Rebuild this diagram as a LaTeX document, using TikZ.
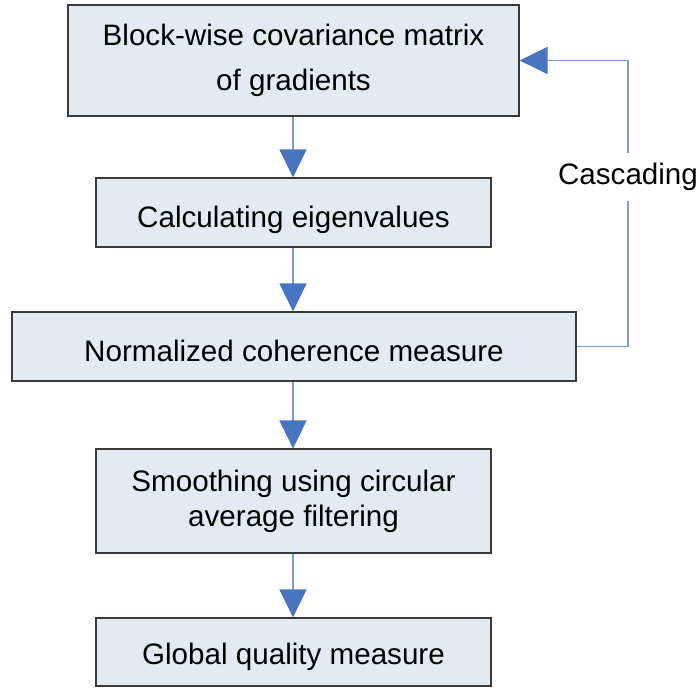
\documentclass[tikz,border=0pt]{standalone}
\usepackage{fontspec}
\setmainfont{Liberation Sans}
\usetikzlibrary{arrows.meta}
\definecolor{boxfill}{RGB}{228,234,243}
\definecolor{boxline}{RGB}{58,58,58}
\definecolor{flowline}{RGB}{122,156,210}
\definecolor{flowtip}{RGB}{72,116,192}
\tikzset{
  stage/.style={draw=boxline, line width=0.55pt, fill=boxfill, align=center,
    inner sep=0pt, font=\fontsize{14.8}{17.5}\selectfont},
  oneline/.style={text height=#1, text depth=0pt},
  flow/.style={draw=flowline, line width=0.6pt,
    -{Triangle[width=13.5pt,length=14pt,color=flowtip]}},
}
\begin{document}
\begin{tikzpicture}[x=0.5pt,y=-0.5pt]
\useasboundingbox (0,0) rectangle (700,689);
\node [stage, minimum width=225.5pt, minimum height=55.5pt,
  font=\fontsize{14.8}{22.5}\selectfont] (cov) at (293.5,60.5)
  {Block-wise covariance matrix\\of gradients};
\node [stage, oneline=15pt, minimum width=197.5pt, minimum height=34.5pt] (eig) at (293.5,212.5)
  {Calculating eigenvalues};
\node [stage, oneline=14.5pt, minimum width=282pt, minimum height=34.5pt] (coh) at (294,346.5)
  {Normalized coherence measure};
\node [stage, minimum width=197.5pt, minimum height=52pt] (smooth) at (293.5,501)
  {Smoothing using circular\\average filtering};
\node [stage, oneline=12pt, minimum width=197.5pt, minimum height=34pt] (glob) at (293.5,652)
  {Global quality measure};
\draw [flow] (cov.south -| 293,0) -- (eig.north -| 293,0);
\draw [flow] (eig.south -| 293,0) -- (coh.north -| 293,0);
\draw [flow] (coh.south -| 293,0) -- (smooth.north -| 293,0);
\draw [flow] (smooth.south -| 293,0) -- (glob.north -| 293,0);
\node [inner xsep=0pt, inner ysep=5pt, font=\fontsize{14.8}{17.5}\selectfont]
  (casc) at (628,177) {Cascading};
\draw [draw=flowline, line width=0.6pt] (coh.east) -| (casc.south);
\draw [flow] (casc.north) |- (cov.east);
\end{tikzpicture}
\end{document}
